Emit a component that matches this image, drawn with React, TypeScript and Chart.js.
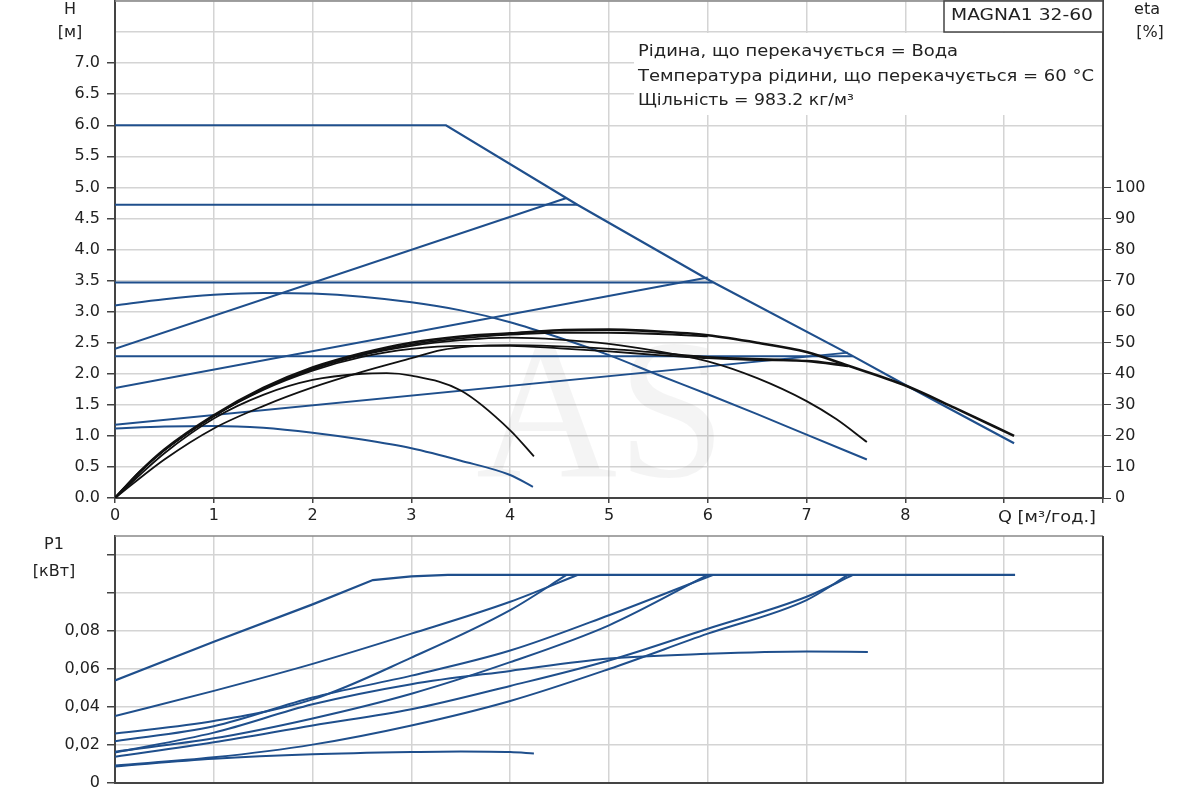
import React, { useEffect, useRef } from "react";
import { Chart, registerables } from "chart.js";

Chart.register(...registerables);

// axis ticks
const qTicks = [0, 1, 2, 3, 4, 5, 6, 7, 8, 9, 10];
const hTicks = [0, 0.5, 1, 1.5, 2, 2.5, 3, 3.5, 4, 4.5, 5, 5.5, 6, 6.5, 7, 7.5, 8];
const etaTicks = [0, 10, 20, 30, 40, 50, 60, 70, 80, 90, 100];
const p1Ticks = [0, 0.02, 0.04, 0.06, 0.08, 0.1, 0.12];

// head curves, [Q m3/h, H m]
const hMax = [[0, 6], [3.35, 6], [4.68, 4.72], [6.02, 3.5], [7.45, 2.3], [8, 1.82], [9.1, 0.88]];
const hConst1 = [[0, 4.72], [4.68, 4.72]];
const hConst2 = [[0, 3.47], [6.05, 3.47]];
const hConst3 = [[0, 2.28], [7.47, 2.28]];
const hProp1 = [[0, 2.4], [4.57, 4.83]];
const hProp2 = [[0, 1.77], [6.0, 3.55]];
const hProp3 = [[0, 1.18], [7.42, 2.34]];
const hCurve = [[0, 3.1], [0.5, 3.2], [1, 3.27], [1.5, 3.3], [2, 3.29], [2.5, 3.24], [3, 3.15], [3.5, 3.02], [4, 2.83], [4.5, 2.58], [5, 2.3], [5.5, 1.98], [6, 1.67], [6.5, 1.35], [7, 1.02], [7.61, 0.62]];
const hMin = [[0, 1.12], [0.5, 1.15], [1, 1.16], [1.5, 1.13], [2, 1.05], [2.5, 0.94], [3, 0.8], [3.5, 0.6], [4, 0.37], [4.23, 0.18]];

// efficiency curves, [Q, eta %]
const etaMax = [[0, 0], [0.25, 8.4], [0.5, 15.6], [1, 26.6], [1.5, 35.4], [2, 42], [2.5, 46.6], [3, 50], [3.5, 52], [4, 53], [4.5, 54], [5, 54.2], [5.5, 53.6], [6, 52.4], [6.5, 50], [7, 47], [7.4, 42.8], [8, 36.2], [8.5, 29], [9.1, 20]];
const etaConst2 = [[0, 0], [0.25, 8.4], [0.5, 15.4], [1, 26.4], [1.5, 35.2], [2, 41.6], [2.5, 46.2], [3, 49.4], [3.5, 51.4], [4, 52.6], [4.5, 53.2], [5, 53.2], [5.5, 52.8], [6, 52]];
const etaConst3 = [[0, 0], [0.25, 8.4], [0.5, 15.4], [1, 26.4], [1.5, 34.8], [2, 41], [2.5, 45.4], [3, 48], [3.5, 49], [4, 49], [4.5, 48.2], [5, 47.2], [5.5, 46], [6, 45], [6.5, 44.4], [7, 44.2], [7.4, 42.8]];
const etaCurve = [[0, 0], [0.25, 8.4], [0.5, 15.4], [1, 26.4], [1.5, 35], [2, 41.4], [2.5, 46], [3, 49], [3.5, 50.8], [4, 51.6], [4.5, 51], [5, 49.6], [5.5, 47.2], [6, 44], [6.5, 38.6], [7, 31.2], [7.3, 25.4], [7.61, 18]];
const etaProp3 = [[0, 0], [0.5, 12.4], [1, 22.4], [1.5, 29.6], [2, 35.6], [2.5, 40.6], [3, 45], [3.3, 47.6], [3.6, 48.8], [4, 49.2], [5, 48], [6, 45.4], [7, 44], [7.42, 42.4]];
const etaMin = [[0, 0], [0.5, 14.4], [1, 25.6], [1.5, 33.2], [2, 38], [2.5, 40], [2.75, 40.2], [3, 39.4], [3.5, 34.6], [4, 21.8], [4.24, 13.4]];

// input power, [Q, P1 kW]
const pMax = [[0, 0.054], [1, 0.0743], [2, 0.094], [2.61, 0.1068], [3, 0.1087], [3.37, 0.1095], [9.11, 0.1095]];
const pConst1 = [[0, 0.0352], [1, 0.0485], [2, 0.0627], [3, 0.0786], [4, 0.0954], [4.68, 0.1095]];
const pProp1 = [[0, 0.026], [1, 0.0326], [2, 0.044], [3, 0.066], [4, 0.091], [4.57, 0.1095]];
const pConst2 = [[0, 0.022], [1, 0.0299], [2, 0.045], [3, 0.0565], [4, 0.0697], [5, 0.0883], [6.05, 0.1095]];
const pProp2 = [[0, 0.0165], [1, 0.0235], [2, 0.034], [3, 0.047], [4, 0.0636], [5, 0.083], [6, 0.1095]];
const pConst3 = [[0, 0.0138], [1, 0.0214], [2, 0.0303], [3, 0.0388], [4, 0.0511], [5, 0.0645], [6, 0.0812], [7, 0.098], [7.47, 0.1095]];
const pProp3 = [[0, 0.0092], [1, 0.0135], [2, 0.0202], [3, 0.0303], [4, 0.0432], [5, 0.06], [6, 0.0786], [7, 0.0963], [7.42, 0.1095]];
const pCurve = [[0, 0.016], [1, 0.0265], [2, 0.0414], [3, 0.052], [4, 0.059], [5, 0.0655], [6, 0.068], [7, 0.0692], [7.62, 0.069]];
const pMin = [[0, 0.0087], [1, 0.0127], [2, 0.0151], [3, 0.0163], [3.5, 0.0166], [4, 0.0163], [4.24, 0.0155]];

const infoLines = [
  "Рідина, що перекачується = Вода",
  "Температура рідини, що перекачується = 60 °C",
  "Щільність = 983.2 кг/м³",
];

const BLUE = "#1f4f8c";
const INK = "#111";
const GRID = "#d4d4d4";
const AXIS = "#444";
const TEXT = "#222";
const FONT = "'DejaVu Sans', sans-serif";

const toXY = (pts: number[][]) => pts.map(([x, y]) => ({ x, y }));

const line = (pts: number[][], color: string, width: number, axis: string, smooth: boolean) => ({
  data: toXY(pts),
  borderColor: color,
  borderWidth: width,
  pointRadius: 0,
  fill: false,
  tension: 0,
  cubicInterpolationMode: smooth ? "monotone" : "default",
  yAxisID: axis,
});

// fixed axis sizes, no extra label padding
const fixSize = (size: number, horizontal: boolean) => (s: any) => {
  if (horizontal) s.height = size;
  else s.width = size;
  s.paddingTop = 0;
  s.paddingBottom = 0;
  s.paddingLeft = 0;
  s.paddingRight = 0;
};

// draw text stretched to a given width (the reference is wide)
const fitText = (ctx: CanvasRenderingContext2D, text: string, x: number, y: number, width: number) => {
  const w = ctx.measureText(text).width;
  ctx.save();
  ctx.translate(x, y);
  ctx.scale(width / w, 1);
  ctx.fillText(text, 0, 0);
  ctx.restore();
};

const topDecor = {
  id: "topDecor",
  beforeDatasetsDraw(chart: any) {
    const { ctx, chartArea: a } = chart;
    ctx.save();
    ctx.font = "200px 'Liberation Serif', serif";
    ctx.textAlign = "left";
    ctx.textBaseline = "alphabetic";
    ctx.fillStyle = "rgba(0,0,0,0.045)";
    fitText(ctx, "AS", 476, 476, 250);
    ctx.fillStyle = "#fff";
    ctx.fillRect(634, 33, a.right - 635, 82);
    ctx.strokeStyle = "#888";
    ctx.lineWidth = 1.5;
    ctx.beginPath();
    ctx.moveTo(a.left, a.top);
    ctx.lineTo(a.right, a.top);
    ctx.stroke();
    ctx.strokeStyle = AXIS;
    ctx.lineWidth = 2;
    ctx.beginPath();
    ctx.moveTo(a.right, a.top);
    ctx.lineTo(a.right, a.bottom);
    ctx.stroke();
    ctx.restore();
  },
  afterDraw(chart: any) {
    const { ctx, chartArea: a } = chart;
    ctx.save();
    ctx.fillStyle = TEXT;
    ctx.font = `16px ${FONT}`;
    ctx.textBaseline = "middle";
    ctx.textAlign = "left";
    fitText(ctx, infoLines[0], 638, 52, 320);
    fitText(ctx, infoLines[1], 638, 77, 456);
    fitText(ctx, infoLines[2], 638, 101, 216);
    // model box
    ctx.fillStyle = "#fff";
    ctx.fillRect(944, a.top, a.right - 944, 31);
    ctx.strokeStyle = AXIS;
    ctx.lineWidth = 1.5;
    ctx.strokeRect(944, a.top, a.right - 944, 31);
    ctx.fillStyle = TEXT;
    fitText(ctx, "MAGNA1 32-60", 951, 16, 142);
    // axis names
    fitText(ctx, "Q [м³/год.]", 998, 518, 98);
    ctx.textAlign = "center";
    ctx.fillText("H", 70, 10);
    ctx.fillText("[м]", 70, 33);
    ctx.fillText("eta", 1147, 10);
    ctx.fillText("[%]", 1150, 33);
    ctx.restore();
  },
};

const bottomDecor = {
  id: "bottomDecor",
  beforeDatasetsDraw(chart: any) {
    const { ctx, chartArea: a } = chart;
    ctx.save();
    ctx.strokeStyle = "#888";
    ctx.lineWidth = 1.5;
    ctx.beginPath();
    ctx.moveTo(a.left, a.top);
    ctx.lineTo(a.right, a.top);
    ctx.stroke();
    ctx.strokeStyle = AXIS;
    ctx.lineWidth = 2;
    ctx.beginPath();
    ctx.moveTo(a.right, a.top);
    ctx.lineTo(a.right, a.bottom);
    ctx.stroke();
    ctx.restore();
  },
  afterDraw(chart: any) {
    const { ctx } = chart;
    ctx.save();
    ctx.fillStyle = TEXT;
    ctx.font = `16px ${FONT}`;
    ctx.textAlign = "center";
    ctx.textBaseline = "middle";
    ctx.fillText("P1", 54, 15);
    ctx.fillText("[кВт]", 54, 42);
    ctx.restore();
  },
};

const tickFont = { family: FONT, size: 16 };

const TopChart = () => {
  const ref = useRef<HTMLCanvasElement>(null);
  useEffect(() => {
    if (!ref.current) return;
    const chart = new Chart(ref.current, {
      type: "line",
      data: {
        datasets: [
          line(etaMax, INK, 2.6, "y2", true),
          line(etaConst2, INK, 1.8, "y2", true),
          line(etaConst3, INK, 1.8, "y2", true),
          line(etaCurve, INK, 1.8, "y2", true),
          line(etaProp3, INK, 1.8, "y2", true),
          line(etaMin, INK, 1.8, "y2", true),
          line(hMax, BLUE, 2.2, "y", false),
          line(hConst1, BLUE, 2, "y", false),
          line(hConst2, BLUE, 2, "y", false),
          line(hConst3, BLUE, 2, "y", false),
          line(hProp1, BLUE, 2, "y", false),
          line(hProp2, BLUE, 2, "y", false),
          line(hProp3, BLUE, 2, "y", false),
          line(hCurve, BLUE, 2, "y", true),
          line(hMin, BLUE, 2, "y", true),
        ] as any,
      },
      options: {
        animation: false,
        responsive: true,
        maintainAspectRatio: false,
        events: [],
        layout: { padding: { top: 1, left: 0, right: 0, bottom: 0 }, autoPadding: false } as any,
        plugins: { legend: { display: false }, tooltip: { enabled: false } },
        scales: {
          x: {
            type: "linear",
            min: 0,
            max: 10,
            afterBuildTicks: (s: any) => { s.ticks = qTicks.map((v) => ({ value: v })); },
            afterFit: fixSize(32, true),
            grid: { color: GRID, lineWidth: 1.5, tickColor: AXIS, tickLength: 5 },
            border: { color: AXIS, width: 2 },
            ticks: { font: tickFont, color: TEXT, padding: 3, maxRotation: 0, autoSkip: false, callback: (v: any) => (v <= 8 ? String(v) : "") },
          },
          y: {
            type: "linear",
            position: "left",
            min: 0,
            max: 8,
            afterBuildTicks: (s: any) => { s.ticks = hTicks.map((v) => ({ value: v })); },
            afterFit: fixSize(115, false),
            grid: { color: GRID, lineWidth: 1.5, tickColor: (c: any) => (c.tick && c.tick.value > 7 ? "rgba(0,0,0,0)" : AXIS), tickLength: 8 },
            border: { color: AXIS, width: 2 },
            ticks: { font: tickFont, color: TEXT, padding: 7, autoSkip: false, callback: (v: any) => (v > 7 ? "" : Number(v).toFixed(1)) },
          },
          y2: {
            type: "linear",
            position: "right",
            min: 0,
            max: 160,
            afterBuildTicks: (s: any) => { s.ticks = etaTicks.map((v) => ({ value: v })); },
            afterFit: fixSize(97, false),
            grid: { drawOnChartArea: false, tickColor: AXIS, tickLength: 8 },
            border: { color: AXIS, width: 2 },
            ticks: { font: tickFont, color: TEXT, padding: 4, autoSkip: false, callback: (v: any) => String(v) },
          },
        },
      } as any,
      plugins: [topDecor],
    });
    return () => chart.destroy();
  }, []);
  return (
    <div style={{ position: "absolute", left: 0, top: 0, width: 1200, height: 530 }}>
      <canvas ref={ref} />
    </div>
  );
};

const BottomChart = () => {
  const ref = useRef<HTMLCanvasElement>(null);
  useEffect(() => {
    if (!ref.current) return;
    const chart = new Chart(ref.current, {
      type: "line",
      data: {
        datasets: [
          line(pMax, BLUE, 2.2, "y", false),
          line(pConst1, BLUE, 2, "y", true),
          line(pProp1, BLUE, 2, "y", true),
          line(pConst2, BLUE, 2, "y", true),
          line(pProp2, BLUE, 2, "y", true),
          line(pConst3, BLUE, 2, "y", true),
          line(pProp3, BLUE, 2, "y", true),
          line(pCurve, BLUE, 2, "y", true),
          line(pMin, BLUE, 2, "y", true),
        ] as any,
      },
      options: {
        animation: false,
        responsive: true,
        maintainAspectRatio: false,
        events: [],
        layout: { padding: { top: 6, left: 0, right: 97, bottom: 0 }, autoPadding: false } as any,
        plugins: { legend: { display: false }, tooltip: { enabled: false } },
        scales: {
          x: {
            type: "linear",
            min: 0,
            max: 10,
            afterBuildTicks: (s: any) => { s.ticks = qTicks.map((v) => ({ value: v })); },
            afterFit: fixSize(17, true),
            grid: { color: GRID, lineWidth: 1.5, drawTicks: false },
            border: { color: AXIS, width: 2 },
            ticks: { display: false },
          },
          y: {
            type: "linear",
            position: "left",
            min: 0,
            max: 0.13,
            afterBuildTicks: (s: any) => { s.ticks = p1Ticks.map((v) => ({ value: v })); },
            afterFit: fixSize(115, false),
            grid: { color: GRID, lineWidth: 1.5, tickColor: AXIS, tickLength: 8 },
            border: { color: AXIS, width: 2 },
            ticks: {
              font: tickFont,
              color: TEXT,
              padding: 7,
              autoSkip: false,
              callback: (v: any) => (v > 0.081 ? "" : v === 0 ? "0" : Number(v).toFixed(2).replace(".", ",")),
            },
          },
        },
      } as any,
      plugins: [bottomDecor],
    });
    return () => chart.destroy();
  }, []);
  return (
    <div style={{ position: "absolute", left: 0, top: 530, width: 1200, height: 270 }}>
      <canvas ref={ref} />
    </div>
  );
};

export default function App() {
  return (
    <div style={{ position: "absolute", left: 0, top: 0, width: 1200, height: 800, background: "#fff" }}>
      <TopChart />
      <BottomChart />
    </div>
  );
}
